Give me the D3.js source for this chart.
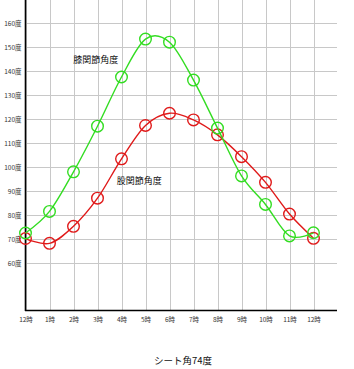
<!DOCTYPE html>
<html><head><meta charset="utf-8">
<script src="https://cdn.jsdelivr.net/npm/d3@7"></script>
<style>html,body{margin:0;padding:0;background:#fff;}svg{display:block;}</style>
</head><body>
<script>
const hours = ["12時","1時","2時","3時","4時","5時","6時","7時","8時","9時","10時","11時","12時"];
const knee = [72.5, 81.5, 98, 117, 137.5, 153.3, 152, 136.2, 116.2, 96.3, 84.4, 71.3, 72.6];
const hip = [70.2, 68.2, 75.3, 87, 103.4, 117.3, 122.4, 119.6, 113.4, 104.3, 93.6, 80.4, 70.3];
const yTicks = [60,70,80,90,100,110,120,130,140,150,160];
const kneeLabel = "膝関節角度";
const hipLabel = "股関節角度";
const title = "シート角74度";

const W = 354, H = 369;
const svg = d3.select("body").append("svg").attr("width", W).attr("height", H);
const font = "'Noto Sans CJK JP', sans-serif";

const x = d3.scaleLinear().domain([0, 12]).range([25.5, 313.5]);
const y = d3.scaleLinear().domain([40, 170]).range([311, -1]);
const xRight = 337;

// horizontal gridlines + y labels
const yAxis = d3.axisLeft(y).tickValues(yTicks).tickSize(-(xRight - 25.5)).tickFormat(d => d + "度");
const gy = svg.append("g").attr("transform", "translate(25.5,0)").call(yAxis);
gy.select(".domain").remove();
gy.selectAll(".tick line").attr("stroke", "#c8c8c8").attr("shape-rendering", "crispEdges");
gy.selectAll(".tick text").attr("x", -4).attr("dy", "0.35em").attr("font-family", font).attr("font-size", 6.5).attr("fill", "#333");

// vertical gridlines + x labels
const xAxis = d3.axisBottom(x).tickValues(d3.range(13)).tickSize(-(310)).tickFormat(i => hours[i]);
const gx = svg.append("g").attr("transform", "translate(0,310)").call(xAxis);
gx.select(".domain").remove();
gx.selectAll(".tick line").attr("stroke", "#c8c8c8").attr("shape-rendering", "crispEdges");
gx.selectAll(".tick text").attr("y", 7).attr("dy", "0.71em").attr("font-family", font).attr("font-size", 6.5).attr("fill", "#333");

// axis lines
svg.append("line").attr("x1", 25.5).attr("x2", 25.5).attr("y1", 0).attr("y2", 311).attr("stroke", "#000").attr("stroke-width", 1.6);
svg.append("line").attr("x1", 25).attr("x2", xRight).attr("y1", 310.5).attr("y2", 310.5).attr("stroke", "#000").attr("stroke-width", 1.6);

const line = d3.line().x((d, i) => x(i)).y(d => y(d)).curve(d3.curveCardinal.tension(0));

function series(data, color) {
  svg.append("path").datum(data).attr("d", line).attr("fill", "none").attr("stroke", color).attr("stroke-width", 1.4);
  svg.append("g").selectAll("circle").data(data).join("circle")
    .attr("cx", (d, i) => x(i)).attr("cy", d => y(d)).attr("r", 5.8)
    .attr("fill", "none").attr("stroke", color).attr("stroke-width", 1.4);
}
series(hip, "#e01a1a");
series(knee, "#33dd22");

svg.append("text").attr("x", 73.3).attr("y", 59.5).attr("dy", "0.35em").attr("font-family", font).attr("font-size", 9).attr("fill", "#111").text(kneeLabel);
svg.append("text").attr("x", 116.7).attr("y", 180.5).attr("dy", "0.35em").attr("font-family", font).attr("font-size", 9).attr("fill", "#111").text(hipLabel);
svg.append("text").attr("x", 183).attr("y", 361).attr("dy", "0.35em").attr("text-anchor", "middle").attr("font-family", font).attr("font-size", 9.5).attr("fill", "#111").text(title);
</script>
</body></html>
